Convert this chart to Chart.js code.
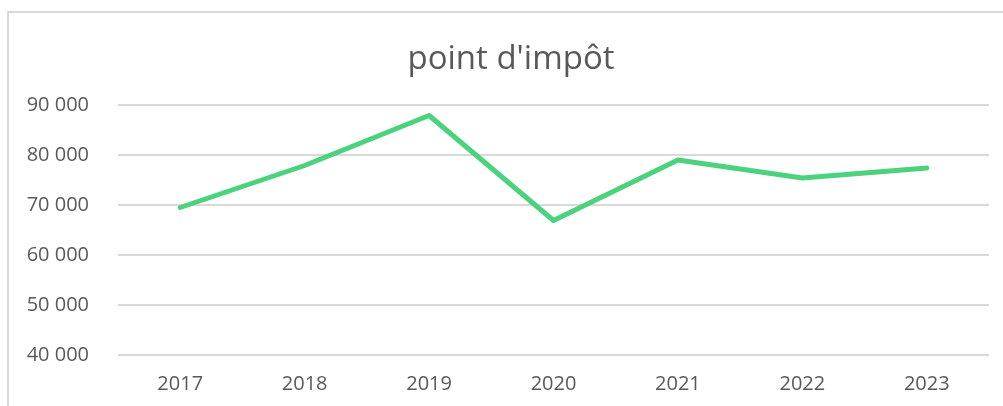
<!DOCTYPE html>
<html>
<head>
<meta charset="utf-8">
<script src="https://cdn.jsdelivr.net/npm/chart.js@4"></script>
<style>
  html, body { margin: 0; padding: 0; background: #fff; }
  #wrap { position: relative; width: 1003px; height: 406px; overflow: hidden; }
  #frame { position: absolute; left: 7px; top: 11px; width: 1010px; height: 420px; border: 2px solid #d9d9d9; box-sizing: border-box; }
  canvas { position: absolute; left: 0; top: 0; }
</style>
</head>
<body>
<div id="wrap">
  <div id="frame"></div>
  <canvas id="myChart" width="1003" height="406"></canvas>
</div>
<script>
const years = ['2017', '2018', '2019', '2020', '2021', '2022', '2023'];
const points = [69500, 77900, 87900, 66900, 79000, 75400, 77400];
const yTicks = [40000, 50000, 60000, 70000, 80000, 90000];
const titleText = "point d'impôt";

function fmt(v) {
    return String(v).replace(/\B(?=(\d{3})+(?!\d))/g, ' ');
}

// title drawn by hand: it is centred on the frame, not on the canvas
const titlePlugin = {
    id: 'frameTitle',
    afterDraw(c) {
        const g = c.ctx;
        g.save();
        g.font = '33px "Open Sans"';
        g.fillStyle = '#595959';
        g.textAlign = 'center';
        g.textBaseline = 'middle';
        g.fillText(titleText, 511, 60);
        g.restore();
    }
};

const ctx = document.getElementById('myChart').getContext('2d');
const chart = new Chart(ctx, {
    type: 'line',
    data: {
        labels: years,
        datasets: [{
            label: titleText,
            data: points,
            borderColor: '#4ad27d',
            borderWidth: 5,
            pointRadius: 0,
            tension: 0,
            borderCapStyle: 'round',
            borderJoinStyle: 'round'
        }]
    },
    plugins: [titlePlugin],
    options: {
        responsive: false,
        animation: false,
        layout: { padding: { left: 0, right: 14, top: 105, bottom: 0 } },
        plugins: {
            legend: { display: false },
            tooltip: { enabled: false },
            title: { display: false }
        },
        scales: {
            x: {
                offset: true,
                grid: { display: false, drawTicks: false },
                border: { display: false },
                ticks: { color: '#595959', font: { family: 'Open Sans', size: 20 }, padding: 17 },
                afterFit: s => { s.height = 51; }
            },
            y: {
                min: 40000,
                max: 90000,
                afterBuildTicks: s => { s.ticks = yTicks.map(v => ({ value: v })); },
                grid: { color: '#d9d9d9', lineWidth: 2, drawTicks: false },
                border: { display: false },
                ticks: { color: '#595959', font: { family: 'Open Sans', size: 20 }, padding: 29, callback: v => fmt(v) },
                afterFit: s => { s.width = 118; }
            }
        }
    }
});
</script>
</body>
</html>
